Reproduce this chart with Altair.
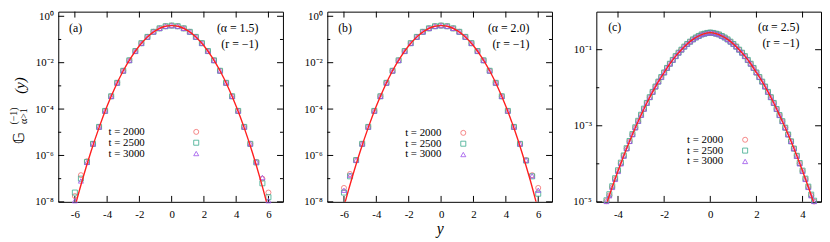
import altair as alt
import pandas as pd

FONT = "Liberation Serif"
RED = "#ff1f1f"
C_CIRC = "#f26b6b"
C_SQ = "#3aa98c"
C_TRI = "#9b50ea"

W = 228
H = 193

# ---------------- panel (a) alpha = 1.5 ----------------
a_curve_x = [-6.25, -6.0, -5.5, -5.0, -4.5, -4.0, -3.5, -3.0, -2.5, -2.0, -1.5, -1.0, -0.5, 0.0,
             0.5, 1.0, 1.5, 2.0, 2.5, 3.0, 3.5, 4.0, 4.5, 5.0, 5.5, 6.0, 6.25]
a_curve_ly = [-8.88, -8.22, -6.97, -5.83, -4.80, -3.87, -3.06, -2.35, -1.76, -1.27, -0.89, -0.62, -0.45, -0.40,
              -0.45, -0.62, -0.89, -1.27, -1.76, -2.35, -3.06, -3.88, -4.81, -5.86, -7.03, -8.32, -9.0]
a_mk_x = [-6.0, -5.625, -5.25, -4.875, -4.5, -4.125, -3.75, -3.375, -3.0, -2.625, -2.25, -1.875, -1.5,
          -1.125, -0.75, -0.375, 0.0, 0.375, 0.75, 1.125, 1.5, 1.875, 2.25, 2.625, 3.0, 3.375, 3.75,
          4.125, 4.5, 4.875, 5.25, 5.625, 6.0]
a_circ_ly = [-7.75, -6.85, -6.25, -5.50, -4.77, -4.08, -3.45, -2.87, -2.35, -1.90, -1.50, -1.16, -0.89,
             -0.67, -0.52, -0.43, -0.40, -0.43, -0.52, -0.67, -0.89, -1.16, -1.50, -1.90, -2.35, -2.87, -3.45,
             -4.08, -4.77, -5.50, -6.28, -7.00, -7.60]
a_sq_ly = [-7.60, -7.00, -6.28, -5.50, -4.77, -4.08, -3.45, -2.87, -2.35, -1.90, -1.50, -1.16, -0.89,
           -0.67, -0.52, -0.43, -0.40, -0.43, -0.52, -0.67, -0.89, -1.16, -1.50, -1.90, -2.35, -2.87, -3.45,
           -4.08, -4.77, -5.50, -6.30, -7.20, -7.80]
a_tri_ly = [-7.95, -7.10, -6.30, -5.50, -4.77, -4.08, -3.45, -2.87, -2.35, -1.90, -1.50, -1.16, -0.89,
            -0.67, -0.52, -0.43, -0.40, -0.43, -0.52, -0.67, -0.89, -1.16, -1.50, -1.90, -2.35, -2.87, -3.45,
            -4.08, -4.77, -5.50, -6.28, -6.95, -7.95]

# ---------------- panel (b) alpha = 2.0 ----------------
b_curve_x = [-6.25, -6.0, -5.5, -5.0, -4.5, -4.0, -3.5, -3.0, -2.5, -2.0, -1.5, -1.0, -0.5, 0.0,
             0.5, 1.0, 1.5, 2.0, 2.5, 3.0, 3.5, 4.0, 4.5, 5.0, 5.5, 6.0, 6.25]
b_curve_ly = [-8.88, -8.20, -6.96, -5.83, -4.80, -3.87, -3.06, -2.35, -1.76, -1.27, -0.89, -0.62, -0.45, -0.40,
              -0.45, -0.62, -0.89, -1.27, -1.76, -2.35, -3.06, -3.88, -4.82, -5.88, -7.05, -8.35, -9.0]
b_mk_x = [-6.0, -5.625, -5.25, -4.875, -4.5, -4.125, -3.75, -3.375, -3.0, -2.625, -2.25, -1.875, -1.5,
          -1.125, -0.75, -0.375, 0.0, 0.375, 0.75, 1.125, 1.5, 1.875, 2.25, 2.625, 3.0, 3.375, 3.75,
          4.125, 4.5, 4.875, 5.25, 5.625, 6.0]
b_circ_ly = [-7.40, -6.80, -6.20, -5.50, -4.77, -4.08, -3.45, -2.87, -2.35, -1.90, -1.50, -1.16, -0.89,
             -0.67, -0.52, -0.43, -0.40, -0.43, -0.52, -0.67, -0.89, -1.16, -1.50, -1.90, -2.35, -2.87, -3.45,
             -4.08, -4.77, -5.50, -6.20, -6.85, -7.40]
b_sq_ly = [-7.60, -6.90, -6.20, -5.50, -4.77, -4.08, -3.45, -2.87, -2.35, -1.90, -1.50, -1.16, -0.89,
           -0.67, -0.52, -0.43, -0.40, -0.43, -0.52, -0.67, -0.89, -1.16, -1.50, -1.90, -2.35, -2.87, -3.45,
           -4.08, -4.77, -5.50, -6.22, -6.90, -7.65]
b_tri_ly = [-7.50, -6.85, -6.20, -5.50, -4.77, -4.08, -3.45, -2.87, -2.35, -1.90, -1.50, -1.16, -0.89,
            -0.67, -0.52, -0.43, -0.40, -0.43, -0.52, -0.67, -0.89, -1.16, -1.50, -1.90, -2.35, -2.87, -3.45,
            -4.08, -4.77, -5.50, -6.20, -6.88, -7.50]

# ---------------- panel (c) alpha = 2.5 ----------------
c_curve_x = [-4.75, -4.5, -4.25, -4.0, -3.75, -3.5, -3.25, -3.0, -2.75, -2.5, -2.25, -2.0, -1.75, -1.5,
             -1.25, -1.0, -0.75, -0.5, -0.25, 0.0, 0.25, 0.5, 0.75, 1.0, 1.25, 1.5, 1.75, 2.0, 2.25, 2.5,
             2.75, 3.0, 3.25, 3.5, 3.75, 4.0, 4.25, 4.5, 4.75]
c_curve_ly = [-5.51, -5.05, -4.61, -4.19, -3.79, -3.41, -3.05, -2.72, -2.40, -2.11, -1.84, -1.60, -1.37,
              -1.17, -1.00, -0.85, -0.73, -0.64, -0.58, -0.55, -0.58, -0.64, -0.73, -0.85, -1.00, -1.17, -1.37,
              -1.60, -1.84, -2.11, -2.40, -2.72, -3.05, -3.41, -3.79, -4.19, -4.61, -5.05, -5.51]
c_mk_x = [-4.625, -4.5, -4.375, -4.25, -4.125, -4.0, -3.875, -3.75, -3.625, -3.5, -3.375, -3.25, -3.125,
          -3.0, -2.875, -2.75, -2.625, -2.5, -2.375, -2.25, -2.125, -2.0, -1.875, -1.75, -1.625, -1.5,
          -1.375, -1.25, -1.125, -1.0, -0.875, -0.75, -0.625, -0.5, -0.375, -0.25, -0.125, 0.0,
          0.125, 0.25, 0.375, 0.5, 0.625, 0.75, 0.875, 1.0, 1.125, 1.25, 1.375, 1.5, 1.625, 1.75,
          1.875, 2.0, 2.125, 2.25, 2.375, 2.5, 2.625, 2.75, 2.875, 3.0, 3.125, 3.25, 3.375, 3.5,
          3.625, 3.75, 3.875, 4.0, 4.125, 4.25, 4.375, 4.5, 4.625]
c_circ_ly = [-5.20, -4.98, -4.83, -4.61, -4.40, -4.19, -3.99, -3.79, -3.60, -3.41, -3.23, -3.05, -2.88,
             -2.72, -2.56, -2.40, -2.25, -2.11, -1.97, -1.84, -1.72, -1.60, -1.48, -1.37, -1.27, -1.17,
             -1.08, -1.00, -0.92, -0.85, -0.79, -0.73, -0.68, -0.64, -0.60, -0.58, -0.56, -0.55,
             -0.56, -0.58, -0.60, -0.64, -0.68, -0.73, -0.79, -0.85, -0.92, -1.00, -1.08, -1.17, -1.27, -1.37,
             -1.48, -1.60, -1.72, -1.84, -1.97, -2.11, -2.25, -2.40, -2.56, -2.72, -2.88, -3.05, -3.23, -3.41,
             -3.60, -3.79, -3.99, -4.19, -4.40, -4.61, -4.83, -4.99, -5.20]
c_sq_ly = [-5.20, -4.96, -4.80, -4.59, -4.38, -4.17, -3.97, -3.78, -3.59, -3.40, -3.22, -3.04, -2.87,
           -2.71, -2.55, -2.40, -2.25, -2.11, -1.97, -1.84, -1.72, -1.60, -1.48, -1.37, -1.27, -1.17,
           -1.08, -1.00, -0.92, -0.85, -0.79, -0.73, -0.68, -0.64, -0.60, -0.58, -0.56, -0.55,
           -0.56, -0.58, -0.60, -0.64, -0.68, -0.73, -0.79, -0.85, -0.92, -1.00, -1.08, -1.17, -1.27, -1.37,
           -1.48, -1.60, -1.72, -1.84, -1.97, -2.11, -2.25, -2.40, -2.56, -2.72, -2.88, -3.05, -3.23, -3.41,
           -3.60, -3.79, -3.98, -4.18, -4.39, -4.60, -4.81, -4.97, -5.20]
c_tri_ly = [-5.20, -4.99, -4.84, -4.62, -4.41, -4.20, -4.00, -3.80, -3.60, -3.41, -3.23, -3.05, -2.88,
            -2.72, -2.56, -2.40, -2.25, -2.11, -1.97, -1.84, -1.72, -1.60, -1.48, -1.37, -1.27, -1.17,
            -1.08, -1.00, -0.92, -0.85, -0.79, -0.73, -0.68, -0.64, -0.60, -0.58, -0.56, -0.55,
            -0.56, -0.58, -0.60, -0.64, -0.68, -0.73, -0.79, -0.85, -0.92, -1.00, -1.08, -1.17, -1.27, -1.37,
            -1.48, -1.60, -1.72, -1.84, -1.97, -2.11, -2.25, -2.40, -2.56, -2.72, -2.88, -3.05, -3.23, -3.41,
            -3.60, -3.80, -4.00, -4.20, -4.41, -4.62, -4.84, -4.99, -5.20]

legend_labels = ["t = 2000", "t = 2500", "t = 3000"]
shapes = ["circle", "square", "triangle-up"]
colors = [C_CIRC, C_SQ, C_TRI]

SUP = "['\u2070','\u00b9','\u00b2','\u00b3','\u2074','\u2075','\u2076','\u2077','\u2078','\u2079']"
Y_LABEL_EXPR = ("'10' + (round(log(datum.value)/LN10) < 0 ? '\u207b' : '') + "
                + SUP + "[abs(round(log(datum.value)/LN10))]")

one = pd.DataFrame({"k": [0]})


def text_layer(txt, x, y, size=12, align="left", style="normal", angle=0):
    return alt.Chart(one).mark_text(font=FONT, fontSize=size, align=align, baseline="middle",
                                    fontStyle=style, angle=angle, color="black").encode(
        x=alt.value(x), y=alt.value(y), text=alt.value(txt))


def panel(cx, cly, mx, series, xdom, ydom, xticks, ymaj, ymin, tag, alpha_txt,
          leg, ann, xtitle=False, ytitle=False):
    bottom = 10 ** ydom[0]
    xs = alt.Scale(domain=xdom, nice=False, zero=False)
    ys = alt.Scale(type="log", domain=[10 ** ydom[0], 10 ** ydom[1]], nice=False)
    if xtitle:
        xaxis = alt.Axis(values=xticks, labelExpr="toString(datum.value)", labelPadding=7,
                         title="y", titleFontStyle="italic", titleFontSize=16, titleFontWeight="normal",
                         titlePadding=1, titleFont=FONT)
    else:
        xaxis = alt.Axis(values=xticks, labelExpr="toString(datum.value)", labelPadding=7, title="")
    yaxis = alt.Axis(values=[10 ** v for v in ymaj], labelExpr=Y_LABEL_EXPR, labelPadding=5, title="")

    def X(f):
        return alt.X(f, type="quantitative", scale=xs, axis=xaxis)

    def Y(f):
        return alt.Y(f, type="quantitative", scale=ys, axis=yaxis)

    layers = []
    # inward ticks
    ymaj_df = pd.DataFrame({"y": [10 ** v for v in ymaj]})
    ymin_df = pd.DataFrame({"y": [10 ** v for v in ymin]})
    xt_df = pd.DataFrame({"x": xticks})
    for df, ln in ((ymaj_df, 6), (ymin_df, 3)):
        layers.append(alt.Chart(df).mark_rule(color="black", strokeWidth=1).encode(
            y=Y("y"), x=alt.value(0), x2=alt.value(ln)))
        layers.append(alt.Chart(df).mark_rule(color="black", strokeWidth=1).encode(
            y=Y("y"), x=alt.value(W - ln), x2=alt.value(W)))
    layers.append(alt.Chart(xt_df).mark_rule(color="black", strokeWidth=1).encode(
        x=X("x"), y=alt.value(H - 6), y2=alt.value(H)))
    layers.append(alt.Chart(xt_df).mark_rule(color="black", strokeWidth=1).encode(
        x=X("x"), y=alt.value(0), y2=alt.value(6)))

    # markers
    for (ly, shp, col) in zip(series, shapes, colors):
        df = pd.DataFrame({"x": mx, "y": [10 ** v for v in ly]})
        layers.append(alt.Chart(df).transform_filter(alt.datum.y >= bottom * 0.97).mark_point(
            shape=shp, filled=False, size=26, strokeWidth=0.8, color=col, opacity=1).encode(
            x=X("x"), y=Y("y")))

    # curve
    cdf = pd.DataFrame({"x": cx, "y": [10 ** v for v in cly]})
    layers.append(alt.Chart(cdf).mark_line(color=RED, strokeWidth=1.4, clip=True,
                                           interpolate="monotone").encode(x=X("x"), y=Y("y")))

    # annotations
    tx, ax_r, ty1, ty2 = ann
    layers.append(text_layer(tag, tx, ty1, size=12))
    layers.append(text_layer(alpha_txt, W - ax_r, ty1, size=12, align="right"))
    layers.append(text_layer("(r = \u22121)", W - ax_r, ty2, size=12, align="right"))

    # legend
    lx, mkx, ly0 = leg
    for i, (lab, shp, col) in enumerate(zip(legend_labels, shapes, colors)):
        layers.append(text_layer(lab, lx, ly0 + 11 * i, size=11))
        layers.append(alt.Chart(one).mark_point(shape=shp, filled=False, size=26, strokeWidth=0.8,
                                                color=col, opacity=1).encode(
            x=alt.value(mkx), y=alt.value(ly0 + 11 * i)))

    if ytitle:
        layers.append(text_layer("\U0001D53E", -40, 128, size=15, align="center", angle=270))
        layers.append(text_layer("(\u22121)", -45, 106, size=10, align="center", angle=270))
        layers.append(text_layer("\u03b1>1", -35, 106, size=10, align="center", angle=270))
        layers.append(text_layer("(y)", -39, 75, size=15, align="center", style="italic", angle=270))

    return alt.layer(*layers).properties(width=W, height=H)


pa = panel(a_curve_x, a_curve_ly, a_mk_x, [a_circ_ly, a_sq_ly, a_tri_ly], [-7.03, 6.9], [-8, 0.2],
           [-6, -4, -2, 0, 2, 4, 6], [0, -2, -4, -6, -8], [-1, -3, -5, -7], "(a)", "(\u03b1 = 1.5)",
           (51, 140, 122), (11, 25, 17, 33), ytitle=True)
pb = panel(b_curve_x, b_curve_ly, b_mk_x, [b_circ_ly, b_sq_ly, b_tri_ly], [-7.03, 6.85], [-8, 0.2],
           [-6, -4, -2, 0, 2, 4, 6], [0, -2, -4, -6, -8], [-1, -3, -5, -7], "(b)", "(\u03b1 = 2.0)",
           (79, 138, 123), (11, 23, 17, 33), xtitle=True)
pc = panel(c_curve_x, c_curve_ly, c_mk_x, [c_circ_ly, c_sq_ly, c_tri_ly], [-4.94, 4.8], [-5, 0],
           [-4, -2, 0, 2, 4], [-1, -3, -5], [-2, -4], "(c)", "(\u03b1 = 2.5)",
           (92, 151, 130), (12, 22, 16, 32))

chart = alt.hconcat(pa, pb, pc, spacing=45, bounds="flush").properties(
    padding={"left": 0, "top": 0, "right": 0, "bottom": 0}
).configure_view(stroke="black", strokeWidth=1).configure_axis(
    labelFont=FONT, labelFontSize=11, labelColor="black", domain=False, ticks=False, tickSize=0,
    grid=False, titleColor="black")

chart.save("out.html", embed_options={"renderer": "svg", "actions": False})
